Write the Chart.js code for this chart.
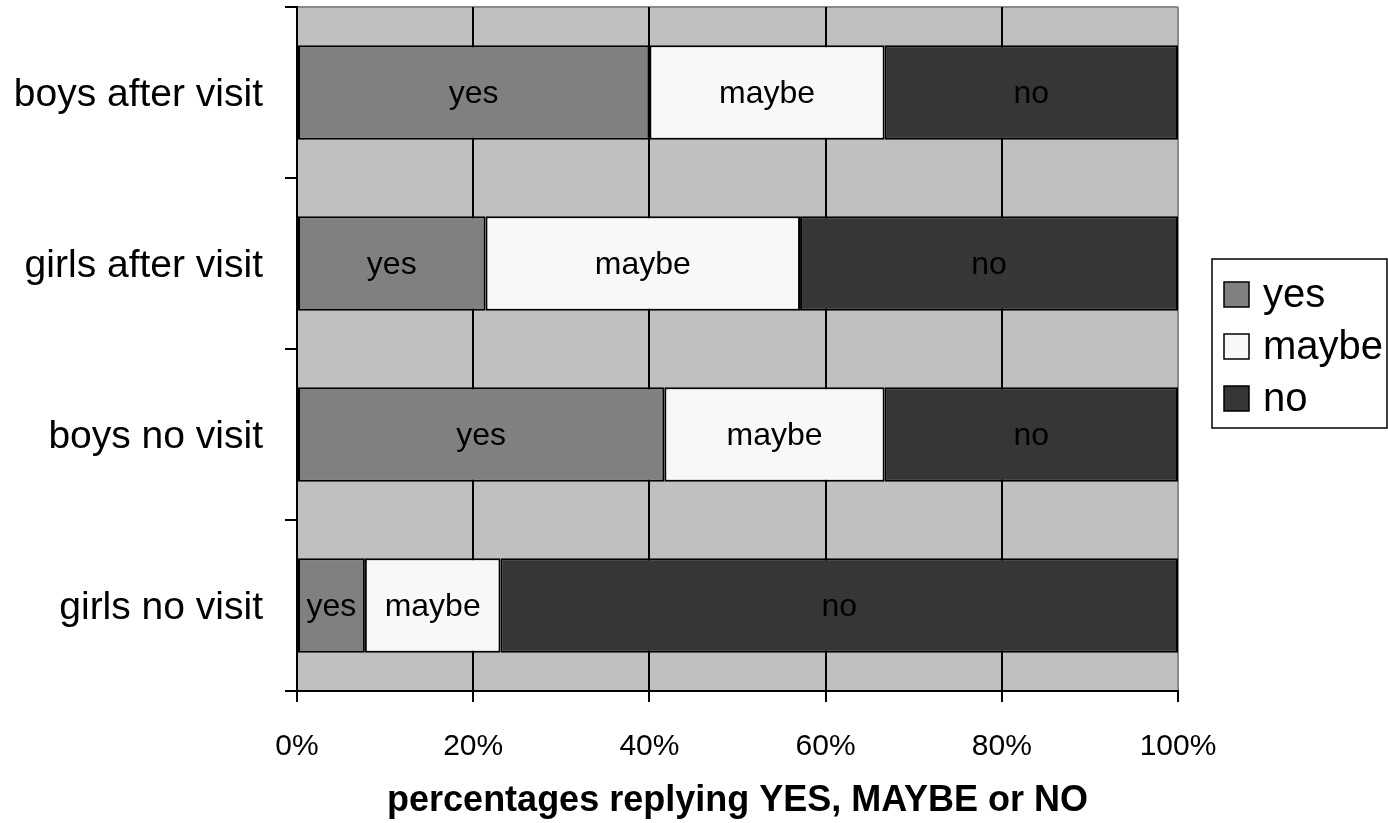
<!DOCTYPE html>
<html>
<head>
<meta charset="utf-8">
<script src="https://cdn.jsdelivr.net/npm/chart.js@4/dist/chart.umd.min.js"></script>
<style>
  html, body { margin: 0; padding: 0; background: #fff; }
  #wrap { width: 1388px; height: 823px; }
</style>
</head>
<body>
<div id="wrap"><canvas id="graph1"></canvas></div>
<script>
const categories = ["boys after visit", "girls after visit", "boys no visit", "girls no visit"];
const yesValues = [40.0, 21.4, 41.7, 7.7];
const maybeValues = [26.7, 35.7, 25.0, 15.4];
const noValues = [33.3, 42.9, 33.3, 76.9];
const xTicks = [0, 20, 40, 60, 80, 100];
const xTitle = "percentages replying YES, MAYBE or NO";

const FONT = "'Liberation Sans', Arial, sans-serif";

// grey plot background + grey top border
const plotBg = {
  id: 'plotBg',
  beforeDraw(chart) {
    const a = chart.chartArea, ctx = chart.ctx;
    ctx.save();
    ctx.fillStyle = '#c0c0c0';
    ctx.fillRect(a.left, a.top, a.right - a.left, a.bottom - a.top);
    ctx.strokeStyle = '#8a8a8a';
    ctx.lineWidth = 2;
    ctx.beginPath();
    ctx.moveTo(a.left, a.top);
    ctx.lineTo(a.right, a.top);
    ctx.stroke();
    ctx.restore();
  }
};

// series name written inside each bar segment
const barLabels = {
  id: 'barLabels',
  afterDatasetsDraw(chart) {
    const ctx = chart.ctx;
    ctx.save();
    ctx.font = '32px ' + FONT;
    ctx.fillStyle = '#000';
    ctx.textAlign = 'center';
    ctx.textBaseline = 'middle';
    chart.data.datasets.forEach((ds, i) => {
      chart.getDatasetMeta(i).data.forEach(bar => {
        const p = bar.getCenterPoint();
        ctx.fillText(ds.label, p.x, p.y + 2);
      });
    });
    ctx.restore();
  }
};

// boxed legend to the right of the plot
const boxLegend = {
  id: 'boxLegend',
  afterDraw(chart) {
    const a = chart.chartArea, ctx = chart.ctx;
    const x = a.right + 34, y = 259, w = 175, h = 169;
    ctx.save();
    ctx.fillStyle = '#fff';
    ctx.fillRect(x, y, w, h);
    ctx.strokeStyle = '#000';
    ctx.lineWidth = 1.5;
    ctx.strokeRect(x, y, w, h);
    ctx.font = '40px ' + FONT;
    ctx.textBaseline = 'middle';
    ctx.textAlign = 'left';
    chart.data.datasets.forEach((ds, i) => {
      const cy = y + 35 + i * 52;
      ctx.fillStyle = ds.backgroundColor;
      ctx.fillRect(x + 12, cy - 12, 25, 25);
      ctx.lineWidth = 1.5;
      ctx.strokeRect(x + 12, cy - 12, 25, 25);
      ctx.fillStyle = '#000';
      ctx.fillText(ds.label, x + 51, cy + 2);
    });
    ctx.restore();
  }
};

const graph = document.getElementById("graph1").getContext('2d');

let myChart = new Chart(graph, {
  type: "bar",
  data: {
    labels: categories,
    datasets: [
      { label: "yes", data: yesValues, backgroundColor: '#808080' },
      { label: "maybe", data: maybeValues, backgroundColor: '#f8f8f8' },
      { label: "no", data: noValues, backgroundColor: '#363636' },
    ],
  },
  options: {
    indexAxis: 'y',
    responsive: true,
    maintainAspectRatio: false,
    animation: false,
    datasets: {
      bar: {
        borderColor: '#000',
        borderWidth: 2,
        borderSkipped: false,
        categoryPercentage: 1,
        barPercentage: 0.552,
      }
    },
    layout: {
      padding: { top: 7, right: 210, left: 0, bottom: 0 },
    },
    plugins: {
      legend: { display: false },
      tooltip: { enabled: false },
    },
    scales: {
      x: {
        stacked: true,
        min: 0,
        max: 100,
        afterBuildTicks: s => { s.ticks = xTicks.map(v => ({ value: v })); },
        afterFit: s => { s.height = 132; s.paddingLeft = 0; s.paddingRight = 0; },
        ticks: {
          callback: v => v + '%',
          font: { size: 30, family: FONT },
          color: '#000',
          padding: 27,
          maxRotation: 0,
        },
        grid: {
          color: c => (c.tick && c.tick.value === 100) ? '#8a8a8a' : '#000',
          tickColor: '#000',
          lineWidth: 2,
          tickLength: 11,
        },
        border: { display: true, color: '#000', width: 2 },
        title: {
          display: true,
          text: xTitle,
          font: { size: 36, weight: 'bold', family: FONT },
          color: '#000',
          padding: { top: 0, bottom: 0 },
        },
      },
      y: {
        stacked: true,
        afterFit: s => { s.width = 297; s.paddingTop = 0; s.paddingBottom = 0; },
        grid: {
          offset: true,
          drawOnChartArea: false,
          tickColor: '#000',
          lineWidth: 2,
          tickLength: 12,
        },
        border: { display: true, color: '#000', width: 2 },
        ticks: {
          font: { size: 39, family: FONT },
          color: '#000',
          padding: 22,
          labelOffset: 3,
        },
      },
    },
  },
  plugins: [plotBg, barLabels, boxLegend],
});
</script>
</body>
</html>
